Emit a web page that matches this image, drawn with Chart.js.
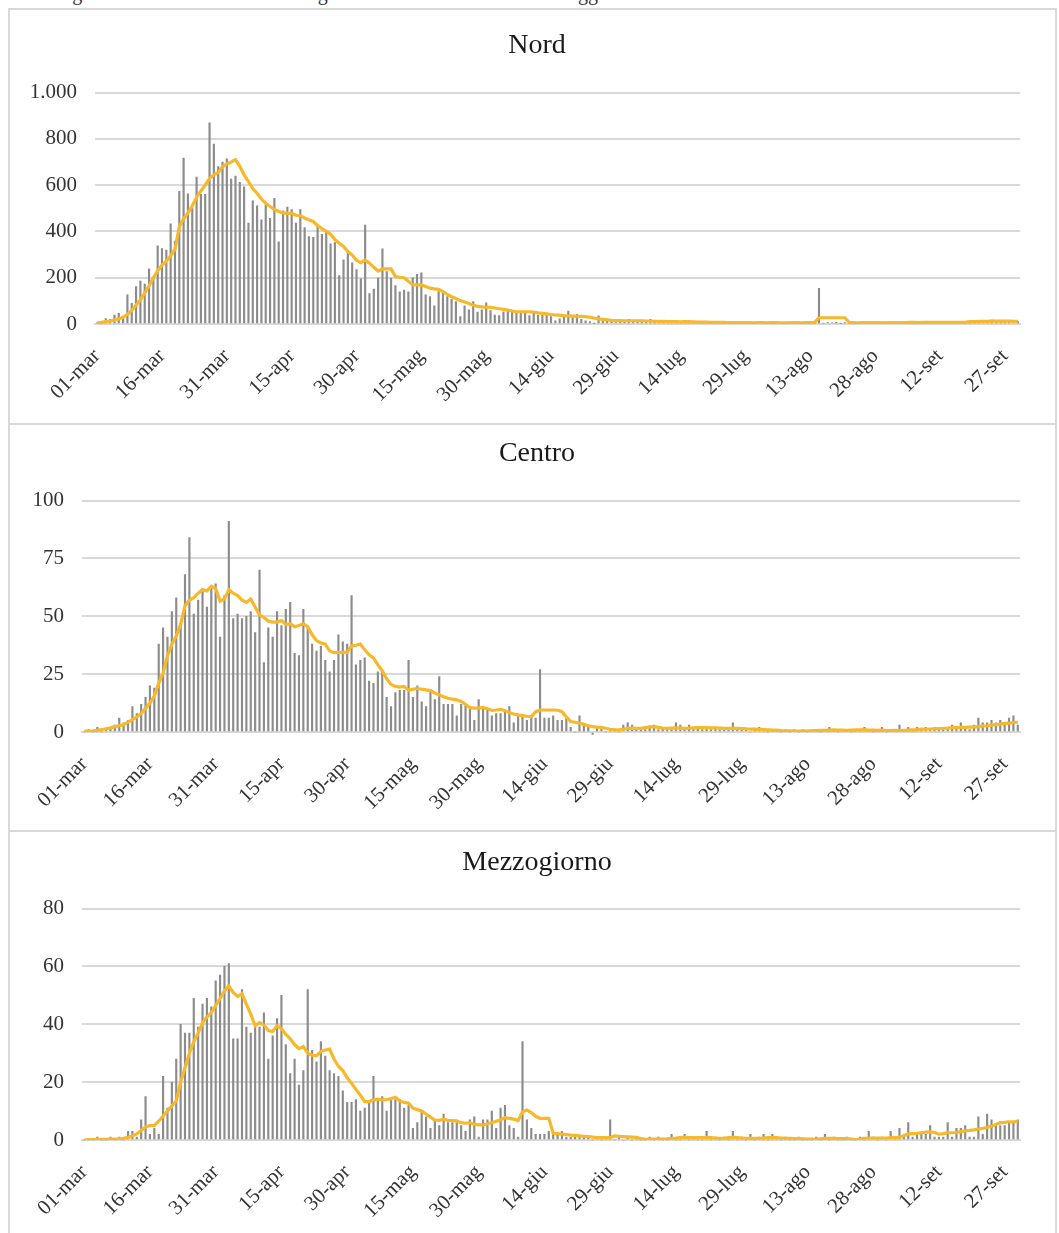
<!DOCTYPE html>
<html lang="it">
<head>
<meta charset="utf-8">
<title>Decessi giornalieri per ripartizione</title>
<script src="https://cdn.jsdelivr.net/npm/chart.js@4.4.1/dist/chart.umd.min.js"></script>
<style>
  html, body { margin: 0; padding: 0; background: #fff; }
  body { width: 1059px; height: 1233px; position: relative; overflow: hidden; font-family: "Liberation Serif", serif; }
  .caption { position: absolute; left: 5px; top: -17px; font-size: 20px; line-height: 20px; color: #333; white-space: nowrap; }
  .frame { position: absolute; left: 8px; top: 8px; width: 1049px; background: #fff; }
  .panel { position: relative; box-sizing: border-box; border: 2px solid #d9d9d9; border-bottom: none; }
  .panel canvas { display: block; }
</style>
</head>
<body>
<div class="caption">Decessi giornalieri e media mobile a 7 giorni nelle tre macroaree: dati aggiornati al 30 settembre 2020</div>
<div class="frame">
  <div class="panel"><canvas id="nord" width="1045" height="413"></canvas></div>
  <div class="panel"><canvas id="centro" width="1045" height="405"></canvas></div>
  <div class="panel"><canvas id="sud" width="1045" height="410"></canvas></div>
</div>
<script>
// calendar of the series: 01-mar .. 30-set
const monthNames = ['mar', 'apr', 'mag', 'giu', 'lug', 'ago', 'set'];
const monthDays = [31, 30, 31, 30, 31, 31, 30];
const tickLabels = ['01-mar', '16-mar', '31-mar', '15-apr', '30-apr', '15-mag', '30-mag', '14-giu',
  '29-giu', '14-lug', '29-lug', '13-ago', '28-ago', '12-set', '27-set'];

// Nord: daily values and 7-day moving average
const nordBars = [
  5, 10, 23, 20, 39, 46, 30, 126, 89, 162,
  186, 173, 238, 200, 338, 326, 319, 433, 358, 573,
  717, 563, 500, 635, 560, 560, 869, 778, 680, 700,
  714, 626, 639, 612, 593, 436, 532, 511, 450, 514,
  457, 543, 355, 489, 505, 494, 436, 494, 417, 378,
  375, 424, 388, 398, 346, 352, 209, 277, 313, 264,
  235, 195, 428, 131, 151, 199, 325, 227, 198, 166,
  139, 147, 139, 200, 215, 221, 126, 118, 78, 140,
  136, 118, 107, 97, 32, 78, 61, 97, 52, 61,
  92, 58, 39, 36, 53, 63, 53, 46, 46, 53,
  36, 50, 39, 39, 42, 32, 14, 22, 29, 56,
  36, 42, 20, 14, 10, 3, 35, 12, 15, 13,
  6, 17, 14, 20, 12, 10, 14, 11, 20, 8,
  12, 9, 15, 10, 8, 6, 11, 14, 9, 7,
  12, 5, 8, 6, 10, 7, 5, 9, 4, 6,
  8, 5, 3, 7, 6, 4, 9, 5, 6, 3,
  8, 5, 7, 4, 6, 5, 3, 154, 4, 6,
  5, 7, 3, 6, 5, 4, 7, 6, 3, 8,
  5, 6, 4, 7, 5, 8, 6, 4, 9, 6,
  5, 7, 8, 4, 6, 9, 5, 7, 6, 8,
  5, 9, 15, 11, 8, 13, 10, 17, 9, 12,
  14, 11, 13, 10
];
const nordAvg = [
  5, 7, 10, 13, 17, 22, 29, 42, 58, 82,
  105, 133, 165, 200, 230, 255, 272, 295, 322, 420,
  455, 480, 510, 548, 575, 600, 630, 645, 655, 680,
  692, 700, 710, 681, 645, 615, 585, 565, 540, 522,
  508, 495, 486, 480, 478, 478, 470, 468, 458, 450,
  443, 425, 412, 400, 388, 365, 349, 335, 313, 298,
  275, 265, 277, 263, 245, 229, 238, 238, 238, 205,
  202, 200, 185, 170, 169, 169, 162, 155, 152, 150,
  140, 128, 118, 110, 101, 95, 89, 82, 76, 74,
  73, 72, 69, 66, 63, 60, 56, 53, 53, 53,
  53, 51, 48, 46, 44, 41, 39, 38, 36, 35,
  34, 33, 33, 32, 29, 26, 22, 20, 18, 16,
  15, 15, 14, 14, 14, 14, 14, 13, 13, 12,
  11, 11, 10, 10, 10, 9, 10, 9, 9, 8,
  8, 8, 7, 7, 7, 7, 6, 6, 6, 6,
  6, 6, 5, 6, 6, 5, 6, 6, 5, 5,
  5, 6, 6, 5, 6, 6, 7, 27, 27, 27,
  27, 27, 27, 27, 6, 6, 5, 6, 6, 6,
  6, 6, 5, 6, 6, 6, 6, 6, 7, 7,
  6, 7, 7, 7, 7, 7, 7, 7, 7, 7,
  7, 8, 10, 10, 11, 11, 11, 12, 12, 12,
  12, 12, 11, 12
];

// Centro
const centroBars = [
  0, 1, 0, 2, 0, 1, 2, 3, 6, 4,
  5, 11, 8, 12, 15, 20, 19, 38, 45, 41,
  52, 58, 47, 68, 84, 51, 57, 62, 54, 63,
  64, 41, 59, 91, 49, 51, 49, 50, 52, 43,
  70, 30, 45, 41, 52, 46, 53, 56, 34, 33,
  53, 45, 38, 35, 37, 31, 26, 31, 42, 39,
  38, 59, 29, 31, 32, 22, 21, 26, 26, 15,
  11, 17, 18, 18, 31, 15, 20, 13, 11, 18,
  14, 24, 12, 12, 12, 7, 12, 12, 10, 5,
  14, 10, 10, 7, 8, 8, 9, 11, 4, 7,
  7, 5, 6, 6, 27, 6, 6, 7, 5, 5,
  6, 2, 0, 7, 3, 3, -1, 2, 2, 0,
  1, 1, 0, 3, 4, 3, 1, 1, 1, 2,
  3, 1, 2, 1, 2, 4, 3, 2, 3, 2,
  2, 1, 2, 1, 2, 1, 2, 1, 4, 1,
  2, 1, 0, 1, 2, 1, 0, 1, 1, 0,
  1, 0, 1, 0, 1, 0, 1, 1, 0, 1,
  2, 1, 0, 1, 1, 0, 1, 1, 2, 1,
  0, 1, 2, 0, 1, 1, 3, 1, 2, 1,
  2, 1, 2, 1, 2, 2, 1, 2, 3, 2,
  4, 2, 1, 3, 6, 4, 4, 5, 4, 5,
  3, 6, 7, 3
];
const centroAvg = [
  0.3, 0.4, 0.5, 0.7, 1.0, 1.4, 1.8, 2.3, 2.7, 3.1,
  4.3, 5.3, 6.5, 8.0, 10.2, 12.5, 15.5, 21, 25.5, 33,
  38, 41.5, 46.5, 54.5, 57, 58, 60, 61.5, 61, 63,
  62, 56.5, 57.5, 61.5, 60, 59, 57, 56, 57.5, 54,
  50.5, 49.5, 48, 47.5, 47.5, 48.2, 46.5, 46.7, 45.5, 46,
  46.8, 45.5, 42, 39.5, 38.5, 38, 35, 34.3, 34.4, 34.4,
  34.4, 37.3, 37.5, 38, 35.5, 33.4, 32, 29, 26.5, 23,
  20.5, 19.7, 19.4, 19.7, 18, 18.5, 18.9, 18.5, 18.2, 17.9,
  16.8, 16, 15.2, 14.6, 14.2, 13.9, 13.2, 12, 10.5, 10.3,
  10.3, 10.6, 10, 9.3, 9.5, 9.8, 9.2, 8.4, 7.8, 7.4,
  7.1, 6.8, 6.6, 8.8, 9.5, 9.5, 9.5, 9.5, 9.4, 8.8,
  6.5, 4.5, 4.2, 3.8, 3.3, 2.7, 2.3, 2.1, 2.0, 1.6,
  1.2, 1.0, 0.9, 1.2, 1.6, 1.7, 1.6, 1.6, 1.9, 2.2,
  2.3, 2.0, 1.7, 1.6, 1.7, 1.8, 1.7, 1.6, 1.7, 1.8,
  1.9, 1.9, 1.9, 1.8, 1.8, 1.7, 1.6, 1.6, 1.7, 1.6,
  1.5, 1.4, 1.2, 1.2, 1.1, 1.0, 0.9, 0.8, 0.8, 0.6,
  0.5, 0.5, 0.4, 0.4, 0.5, 0.4, 0.6, 0.6, 0.7, 0.7,
  0.8, 0.9, 0.8, 0.8, 0.7, 0.8, 0.9, 0.9, 1.0, 0.8,
  0.8, 0.7, 0.8, 0.6, 0.6, 0.7, 0.6, 0.7, 0.8, 0.9,
  1.0, 1.2, 1.2, 1.3, 1.4, 1.5, 1.6, 1.7, 1.9, 1.9,
  2.0, 2.0, 2.1, 2.2, 2.3, 2.6, 2.7, 3.0, 3.2, 3.4,
  3.7, 3.8, 4.1, 4.3
];

// Mezzogiorno
const sudBars = [
  0, 0, 0, 1, 0, 0, 1, 0, 1, 0,
  3, 3, 1, 7, 15, 2, 4, 2, 22, 11,
  20, 28, 40, 37, 37, 49, 39, 47, 49, 46,
  55, 57, 60, 61, 35, 35, 52, 39, 37, 39,
  39, 44, 28, 36, 42, 50, 33, 23, 28, 19,
  24, 52, 31, 27, 34, 29, 24, 23, 22, 17,
  13, 13, 14, 10, 11, 13, 22, 14, 15, 10,
  14, 14, 14, 11, 12, 4, 6, 10, 8, 4,
  7, 5, 9, 6, 6, 6, 5, 3, 7, 8,
  1, 7, 7, 10, 4, 11, 12, 5, 4, 1,
  34, 7, 4, 2, 2, 2, 3, 2, 2, 3,
  1, 1, 2, 1, 1, 1, 0, 1, 0, 1,
  7, 0, 1, 0, 1, 0, 1, 0, 0, 1,
  0, 1, 0, 0, 2, 0, 0, 2, 0, 1,
  0, 0, 3, 0, 1, 0, 1, 0, 3, 0,
  1, 0, 2, 0, 1, 2, 0, 2, 1, 0,
  1, 0, 0, 1, 0, 0, 0, 1, 0, 2,
  0, 1, 0, 0, 1, 0, 0, 1, 0, 3,
  1, 0, 1, 0, 3, 1, 4, 1, 6, 1,
  2, 2, 2, 5, 1, 1, 1, 6, 1, 4,
  4, 5, 1, 1, 8, 2, 9, 7, 5, 5,
  5, 6, 6, 7
];
const sudAvg = [
  0, 0.1, 0.1, 0.2, 0.2, 0.2, 0.3, 0.3, 0.4, 0.6,
  0.9, 1.4, 2.1, 3.3, 4.5, 5.0, 5.0, 6.5, 8.3, 10.0,
  11.8, 13.5, 20, 25, 30, 34, 37, 40.5, 42.5, 44,
  46.5, 49, 51.5, 53.3, 51, 49.6, 50.6, 47, 43.5, 39.5,
  40.6, 39.8, 37.8, 37.5, 39.5, 38.5, 36.5, 35, 33, 31.6,
  32.3, 30, 29.3, 29.1, 30.6, 31.1, 31.4, 28, 25.5, 24,
  21.5, 19.6, 17.5, 15.5, 13.3, 13.3, 13.9, 14.1, 13.8, 14.0,
  14.3, 14.8, 13.5, 13, 12.7, 11, 10.5, 10, 9, 7.9,
  6.9, 6.8, 7.2, 6.8, 6.7, 6.6, 6.0, 5.8, 6.0, 5.4,
  5.2, 5.2, 5.6, 6.0, 6.5, 7.0, 7.7, 7.5, 7.2, 6.7,
  9.8, 10.4, 9.5, 8.2, 7.5, 7.5, 7.5, 2.3, 2.2, 2.0,
  1.9, 1.7, 1.6, 1.4, 1.3, 1.2, 1.0, 0.8, 0.8, 0.8,
  0.8, 1.4, 1.3, 1.2, 1.1, 1.0, 0.9, 0.5, 0.2, 0.3,
  0.3, 0.3, 0.3, 0.4, 0.6, 0.6, 0.9, 0.9, 0.8, 0.8,
  0.8, 0.8, 0.9, 0.8, 0.7, 0.6, 0.6, 0.8, 0.9, 0.8,
  0.7, 0.6, 0.6, 0.6, 0.6, 0.7, 0.8, 0.9, 0.8, 0.7,
  0.6, 0.6, 0.5, 0.5, 0.4, 0.3, 0.3, 0.2, 0.4, 0.6,
  0.6, 0.6, 0.5, 0.5, 0.5, 0.3, 0.1, 0.3, 0.6, 0.7,
  0.7, 0.7, 0.7, 0.7, 0.8, 0.8, 0.9, 1.5, 2.1, 2.2,
  2.3, 2.5, 2.7, 2.8, 2.6, 2.0, 2.2, 2.5, 2.5, 2.6,
  2.9, 3.2, 3.3, 3.5, 3.8, 4.0, 4.4, 4.8, 5.4, 6.0,
  6.1, 6.3, 6.3, 6.4
];

const serif = '"Liberation Serif", "Times New Roman", serif';
const gridColor = '#d9d9d9';
const barColor = '#8c8c8c';
const avgColor = '#f7b829';

/**
 * Category labels, one per day
 */
const categories = [];
monthNames.forEach(function (m, k) {
  for (let d = 1; d <= monthDays[k]; d++) {
    categories.push((d < 10 ? '0' : '') + d + '-' + m);
  }
});

/**
 * Italian thousands separator
 */
function fmt(v) {
  return String(v).replace(/\B(?=(\d{3})+(?!\d))/g, '.');
}

function drawPanel(opts) {
  const ctx = document.getElementById(opts.selector).getContext('2d');

  new Chart(ctx, {
    type: 'bar',
    data: {
      labels: categories,
      datasets: [
        {
          type: 'line',
          data: opts.avg,
          borderColor: avgColor,
          borderWidth: 3.2,
          pointRadius: 0,
          tension: 0,
          order: 0
        },
        {
          type: 'bar',
          data: opts.bars,
          backgroundColor: barColor,
          barThickness: 1.5,
          clip: { left: 0, top: 0, right: 0, bottom: 5 },
          order: 1
        }
      ]
    },
    options: {
      responsive: false,
      animation: false,
      devicePixelRatio: 1,
      layout: { padding: { left: 9, right: 0, top: 0, bottom: 0 } },
      plugins: {
        legend: { display: false },
        tooltip: { enabled: false },
        title: {
          display: true,
          text: opts.title,
          color: '#1a1a1a',
          font: { family: serif, size: 28, weight: 'normal', lineHeight: 1.2 },
          padding: { top: opts.titleTop, bottom: opts.titleBottom }
        }
      },
      scales: {
        x: {
          grid: { display: false },
          border: { display: true, color: gridColor, width: 2 },
          ticks: {
            autoSkip: false,
            maxRotation: 45,
            minRotation: 45,
            padding: 12,
            color: '#333',
            font: { family: serif, size: 21 },
            callback: function (v, i) {
              return tickLabels.indexOf(categories[i]) >= 0 ? categories[i] : null;
            }
          },
          afterFit: function (s) { s.height = opts.xHeight; }
        },
        y: {
          min: 0,
          max: opts.max,
          ticks: {
            stepSize: opts.step,
            padding: 18,
            color: '#333',
            font: { family: serif, size: 21 },
            callback: fmt
          },
          grid: { color: gridColor, lineWidth: 2, drawTicks: false },
          border: { display: false },
          afterFit: function (s) { s.width = opts.yWidth; }
        },
        // empty right-hand axis: only keeps the plot off the right edge
        spacer: {
          position: 'right',
          display: true,
          grid: { display: false, drawTicks: false },
          border: { display: false },
          ticks: { display: false },
          afterFit: function (s) { s.width = 35; }
        }
      }
    }
  });
}

drawPanel({ selector: 'nord', title: 'Nord', bars: nordBars, avg: nordAvg, max: 1000, step: 200,
  yWidth: 76, xHeight: 99, titleTop: 19, titleBottom: 30 });
drawPanel({ selector: 'centro', title: 'Centro', bars: centroBars, avg: centroAvg, max: 100, step: 25,
  yWidth: 63, xHeight: 98, titleTop: 12, titleBottom: 30 });
drawPanel({ selector: 'sud', title: 'Mezzogiorno', bars: sudBars, avg: sudAvg, max: 80, step: 20,
  yWidth: 63, xHeight: 102, titleTop: 14, titleBottom: 29 });
</script>
</body>
</html>
